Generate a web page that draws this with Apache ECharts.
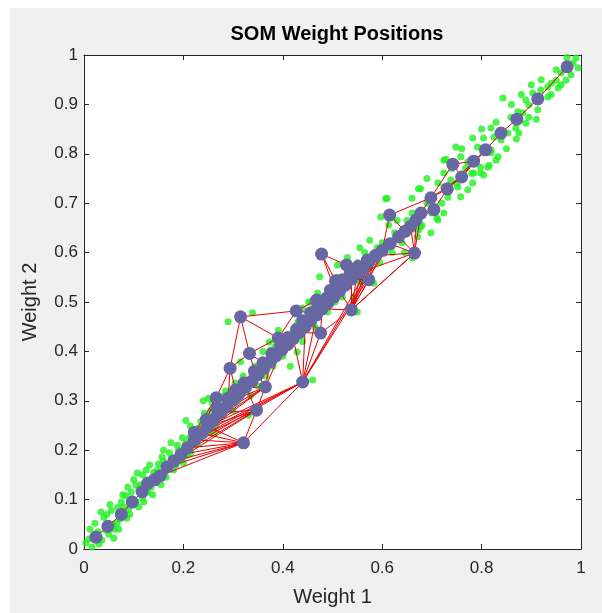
<!DOCTYPE html>
<html>
<head>
<meta charset="utf-8">
<script src="https://cdn.jsdelivr.net/npm/echarts@6/dist/echarts.min.js"></script>
<style>
  html, body { margin: 0; padding: 0; background: #fff; }
  #main { position: absolute; left: 10px; top: 8px; width: 592px; height: 605px; }
</style>
</head>
<body>
<div id="main"></div>
<script>
// input samples (green)
const samples = [
  [0.004,0.012],[0.016,0.004],[0.010,0.020],[0.030,0.010],[0.028,0.035],[0.034,0.075],[0.040,0.064],[0.044,0.038],
  [0.060,0.022],[0.058,0.050],[0.066,0.052],[0.068,0.084],[0.080,0.085],[0.086,0.062],[0.084,0.108],[0.095,0.115],
  [0.105,0.095],[0.107,0.154],[0.118,0.103],[0.114,0.130],[0.125,0.160],[0.128,0.115],[0.135,0.125],[0.140,0.155],
  [0.145,0.135],[0.150,0.172],[0.157,0.186],[0.162,0.150],[0.170,0.165],[0.176,0.185],[0.185,0.170],[0.190,0.200],
  [0.200,0.174],[0.205,0.215],[0.212,0.225],[0.215,0.195],[0.225,0.210],[0.230,0.245],[0.214,0.249],[0.240,0.228],
  [0.245,0.260],[0.252,0.238],[0.020,0.030],[0.050,0.030],[0.070,0.040],[0.090,0.080],[0.110,0.120],[0.130,0.140],
  [0.055,0.078],[0.075,0.095],[0.100,0.140],[0.120,0.095],
  [0.012,0.040],[0.022,0.052],[0.036,0.018],[0.046,0.070],[0.052,0.090],[0.062,0.040],[0.072,0.060],[0.078,0.110],
  [0.088,0.125],[0.092,0.070],[0.098,0.100],[0.104,0.130],[0.110,0.085],[0.118,0.150],[0.124,0.128],[0.132,0.170],
  [0.138,0.110],[0.148,0.160],[0.155,0.130],[0.160,0.178],[0.165,0.145],[0.172,0.195],[0.180,0.160],[0.188,0.210],
  [0.195,0.180],[0.198,0.225],[0.208,0.190],[0.220,0.240],[0.228,0.215],[0.235,0.258],[0.242,0.275],[0.258,0.295],
  [0.262,0.235],[0.275,0.300],[0.282,0.310],[0.296,0.320],[0.240,0.300],[0.205,0.260],[0.175,0.215],[0.160,0.200],
  [0.250,0.305],[0.255,0.280],[0.265,0.250],[0.270,0.290],[0.280,0.270],[0.285,0.320],[0.290,0.460],[0.304,0.336],
  [0.300,0.280],[0.310,0.300],[0.315,0.379],[0.320,0.350],[0.331,0.271],[0.335,0.310],[0.339,0.478],[0.345,0.370],
  [0.350,0.330],[0.360,0.400],[0.365,0.350],[0.373,0.419],[0.375,0.403],[0.380,0.370],[0.385,0.410],[0.391,0.443],
  [0.400,0.390],[0.405,0.425],[0.415,0.370],[0.420,0.440],[0.429,0.399],[0.430,0.460],[0.440,0.488],[0.440,0.420],
  [0.450,0.468],[0.452,0.500],[0.460,0.342],[0.456,0.500],[0.465,0.450],[0.470,0.518],[0.474,0.551],[0.480,0.500],
  [0.490,0.480],[0.500,0.530],[0.505,0.500],[0.510,0.550],[0.520,0.510],[0.530,0.560],[0.542,0.510],[0.550,0.480],
  [0.550,0.580],[0.560,0.545],[0.565,0.600],[0.575,0.570],[0.583,0.538],[0.590,0.610],[0.595,0.580],
  [0.610,0.710],[0.673,0.729],[0.597,0.672],[0.613,0.656],[0.710,0.670],[0.673,0.646],[0.661,0.589],[0.645,0.600],
  [0.732,0.712],[0.724,0.733],[0.555,0.540],[0.640,0.620],[0.625,0.640],[0.650,0.665],[0.690,0.700],[0.700,0.680],
  [0.680,0.655],[0.600,0.620],[0.585,0.600],[0.575,0.625],[0.620,0.600],[0.660,0.680],[0.630,0.665],[0.555,0.610],
  [0.530,0.590],[0.510,0.575],
  [0.972,0.995],[0.990,0.994],[0.984,0.984],[0.994,0.974],[0.960,0.964],[0.970,0.949],[0.950,0.949],[0.940,0.943],
  [0.933,0.935],[0.954,0.933],[0.919,0.929],[0.903,0.923],[0.889,0.909],[0.933,0.915],[0.895,0.899],[0.913,0.889],
  [0.883,0.883],[0.843,0.913],[0.895,0.874],[0.873,0.885],[0.859,0.874],[0.889,0.862],[0.829,0.864],[0.819,0.852],
  [0.869,0.852],[0.875,0.842],[0.853,0.842],[0.839,0.828],[0.825,0.834],[0.804,0.832],[0.782,0.832],[0.748,0.814],
  [0.792,0.814],[0.802,0.804],[0.819,0.802],[0.829,0.787],[0.778,0.787],[0.758,0.794],[0.724,0.787],[0.798,0.773],
  [0.815,0.777],[0.768,0.771],[0.784,0.761],[0.804,0.757],[0.728,0.789],[0.677,0.729],[0.607,0.709],[0.724,0.761],
  [0.738,0.747],[0.712,0.741],[0.732,0.721],[0.752,0.733],[0.758,0.713],[0.772,0.727],[0.782,0.741],[0.798,0.761],
  [0.813,0.773],[0.712,0.666],[0.724,0.680],[0.677,0.652],[0.671,0.632],[0.698,0.640],[0.833,0.794],[0.819,0.808],
  [0.772,0.783],
  [0.860,0.900],[0.900,0.940],[0.920,0.950],[0.950,0.970],[0.880,0.920],[0.800,0.850],[0.760,0.810],[0.740,0.770],
  [0.850,0.810],[0.870,0.830],[0.910,0.870],[0.940,0.920],[0.960,0.940],[0.980,0.960],[0.780,0.760],[0.750,0.740],
  [0.690,0.750],[0.660,0.710],[0.720,0.700]
];

// neuron weights: main spine
const spine = [
  [0.024,0.024],[0.048,0.046],[0.075,0.070],[0.097,0.095],[0.117,0.116],[0.128,0.133],[0.142,0.140],[0.153,0.148],
  [0.167,0.166],[0.181,0.178],[0.195,0.191],[0.208,0.205],[0.222,0.221],[0.236,0.234],[0.249,0.248],[0.262,0.262],
  [0.275,0.276],[0.288,0.289],[0.300,0.301],[0.312,0.314],[0.325,0.327],[0.338,0.340],[0.350,0.353],[0.362,0.366],
  [0.375,0.379],[0.386,0.391],[0.398,0.403],[0.410,0.414],[0.421,0.426],[0.433,0.438],[0.445,0.450],[0.456,0.462],
  [0.468,0.474],[0.479,0.486],[0.491,0.498],[0.503,0.510],[0.514,0.522],[0.526,0.534],[0.538,0.546],[0.550,0.558],
  [0.562,0.570],[0.574,0.582],[0.586,0.594],[0.600,0.604],[0.616,0.618],[0.633,0.632],[0.646,0.643],[0.657,0.653],
  [0.668,0.666],[0.678,0.680],[0.704,0.687],[0.698,0.711],[0.731,0.729],[0.760,0.753],[0.784,0.785],[0.808,0.808],
  [0.839,0.842],[0.871,0.870],[0.913,0.911],[0.972,0.976]
];
// second row of the spine (middle section)
const spine2 = [
  [0.222,0.236],[0.246,0.262],[0.268,0.284],[0.290,0.305],[0.305,0.322],[0.322,0.336],[0.343,0.360],[0.360,0.377],
  [0.378,0.395],[0.395,0.410],[0.410,0.428],[0.428,0.445],[0.440,0.462],[0.456,0.478],[0.470,0.490],[0.488,0.508],
  [0.505,0.524],[0.520,0.545],[0.536,0.560],[0.552,0.572],[0.570,0.585]
];
// neurons away from the spine
const outer = [
  [0.315,0.470],[0.427,0.482],[0.391,0.427],[0.333,0.396],[0.294,0.366],[0.365,0.328],[0.440,0.338],[0.347,0.281],
  [0.266,0.306],[0.321,0.215],[0.478,0.597],[0.506,0.543],[0.538,0.484],[0.468,0.504],[0.615,0.676],[0.665,0.599],
  [0.742,0.779],[0.476,0.437],[0.528,0.575],[0.573,0.545],[0.496,0.524]
];
// neighbour links (indices into spine + spine2 + outer)
const extraLinks = [
  [60,12],[60,14],[61,14],[61,16],[62,16],[62,18],[63,18],[63,19],[64,19],[64,21],[65,20],[65,22],[66,22],[66,24],
  [67,23],[67,25],[68,25],[68,27],[69,26],[69,28],[70,28],[70,29],[71,29],[71,31],[72,30],[72,32],[73,32],[73,34],
  [74,33],[74,35],[75,35],[75,36],[76,36],[76,38],[77,38],[77,39],[78,39],[78,41],[79,41],[79,42],[80,42],[80,43],
  [81,82],[81,83],[81,84],[81,85],[82,83],[82,72],[82,73],[82,94],[83,84],[83,70],[83,69],[84,85],[84,67],[84,66],
  [85,89],[85,64],[85,63],[89,61],[89,62],[89,60],
  [86,14],[86,16],[86,18],[86,20],[86,22],[86,24],[86,26],[86,88],[86,12],
  [87,28],[87,30],[87,32],[87,90],[87,12],[87,14],[87,98],[87,43],[87,44],[87,42],[87,11],[87,13],
  [88,10],[88,12],[88,14],[88,90],[88,20],[88,8],[88,16],
  [90,8],[90,9],[90,10],[90,11],[90,13],[90,7],[90,12],[90,14],
  [91,99],[91,92],[91,76],[92,77],[92,35],[93,36],[93,38],[93,96],[93,100],[93,33],[94,74],[94,33],
  [93,39],[93,40],[93,41],[93,42],
  [95,51],[95,46],[95,43],[96,49],[96,44],[96,42],[96,93],[97,53],[97,54],[97,51],
  [96,45],[96,47],[96,48],[96,39],
  [98,31],[98,33],[98,29],[98,93],[99,41],[99,40],[99,80],[100,40],[100,42],[100,43],[100,38],[100,93],
  [101,76],[101,92],[101,35],
  [48,50],[49,51],[51,53],[50,52],[53,55],[52,54]
];

const neurons = spine.concat(spine2, outer);
const links = [];
for (let i = 0; i < spine.length - 1; i++) links.push([i, i + 1]);
for (let i = 0; i < spine2.length - 1; i++) links.push([spine.length + i, spine.length + i + 1]);
extraLinks.forEach(l => links.push(l));

const axisColor = '#262626';
const font = '"Liberation Sans", Arial, Helvetica, sans-serif';

const myChart = echarts.init(document.getElementById('main'));
const fmt = v => String(+v.toFixed(1));
const option = {
  animation: false,
  backgroundColor: '#f0f0f0',
  textStyle: { fontFamily: font },
  title: {
    text: 'SOM Weight Positions',
    left: 322,
    top: 11,
    textAlign: 'center',
    textStyle: { fontSize: 20, fontWeight: 'bold', color: '#000', fontFamily: font }
  },
  grid: {
    left: 74, right: 21, top: 47, bottom: 64,
    show: true, backgroundColor: '#fff', borderWidth: 0
  },
  xAxis: [
    {
      type: 'value', min: 0, max: 1, interval: 0.2, position: 'bottom',
      axisLine: { onZero: false, lineStyle: { color: axisColor, width: 1 } },
      axisTick: { inside: true, length: 5, lineStyle: { color: axisColor } },
      axisLabel: { color: axisColor, fontSize: 17, margin: 11, formatter: fmt, fontFamily: font },
      splitLine: { show: false },
      name: 'Weight 1', nameLocation: 'middle', nameGap: 38,
      nameTextStyle: { fontSize: 20, color: axisColor, fontFamily: font }
    },
    {
      type: 'value', min: 0, max: 1, interval: 0.2, position: 'top',
      axisLine: { onZero: false, lineStyle: { color: axisColor, width: 1 } },
      axisTick: { inside: true, length: 5, lineStyle: { color: axisColor } },
      axisLabel: { show: false }, splitLine: { show: false }
    }
  ],
  yAxis: [
    {
      type: 'value', min: 0, max: 1, interval: 0.1, position: 'left',
      axisLine: { onZero: false, lineStyle: { color: axisColor, width: 1 } },
      axisTick: { inside: true, length: 5, lineStyle: { color: axisColor } },
      axisLabel: { color: axisColor, fontSize: 17, margin: 6, formatter: fmt, fontFamily: font },
      splitLine: { show: false },
      name: 'Weight 2', nameLocation: 'middle', nameGap: 44,
      nameTextStyle: { fontSize: 20, color: axisColor, fontFamily: font }
    },
    {
      type: 'value', min: 0, max: 1, interval: 0.1, position: 'right',
      axisLine: { onZero: false, lineStyle: { color: axisColor, width: 1 } },
      axisTick: { inside: true, length: 5, lineStyle: { color: axisColor } },
      axisLabel: { show: false }, splitLine: { show: false }
    }
  ],
  series: [
    {
      type: 'scatter',
      data: samples,
      symbolSize: 7,
      clip: false,
      itemStyle: { color: '#1ef01e' },
      z: 2,
      silent: true
    },
    {
      type: 'graph',
      coordinateSystem: 'cartesian2d',
      layout: 'none',
      data: neurons,
      links: links.map(([s, t]) => ({ source: s, target: t })),
      symbolSize: 13,
      itemStyle: { color: '#6767a3' },
      lineStyle: { color: '#e60000', width: 1, opacity: 1, curveness: 0 },
      z: 3,
      silent: true
    }
  ]
};
myChart.setOption(option);
</script>
</body>
</html>
